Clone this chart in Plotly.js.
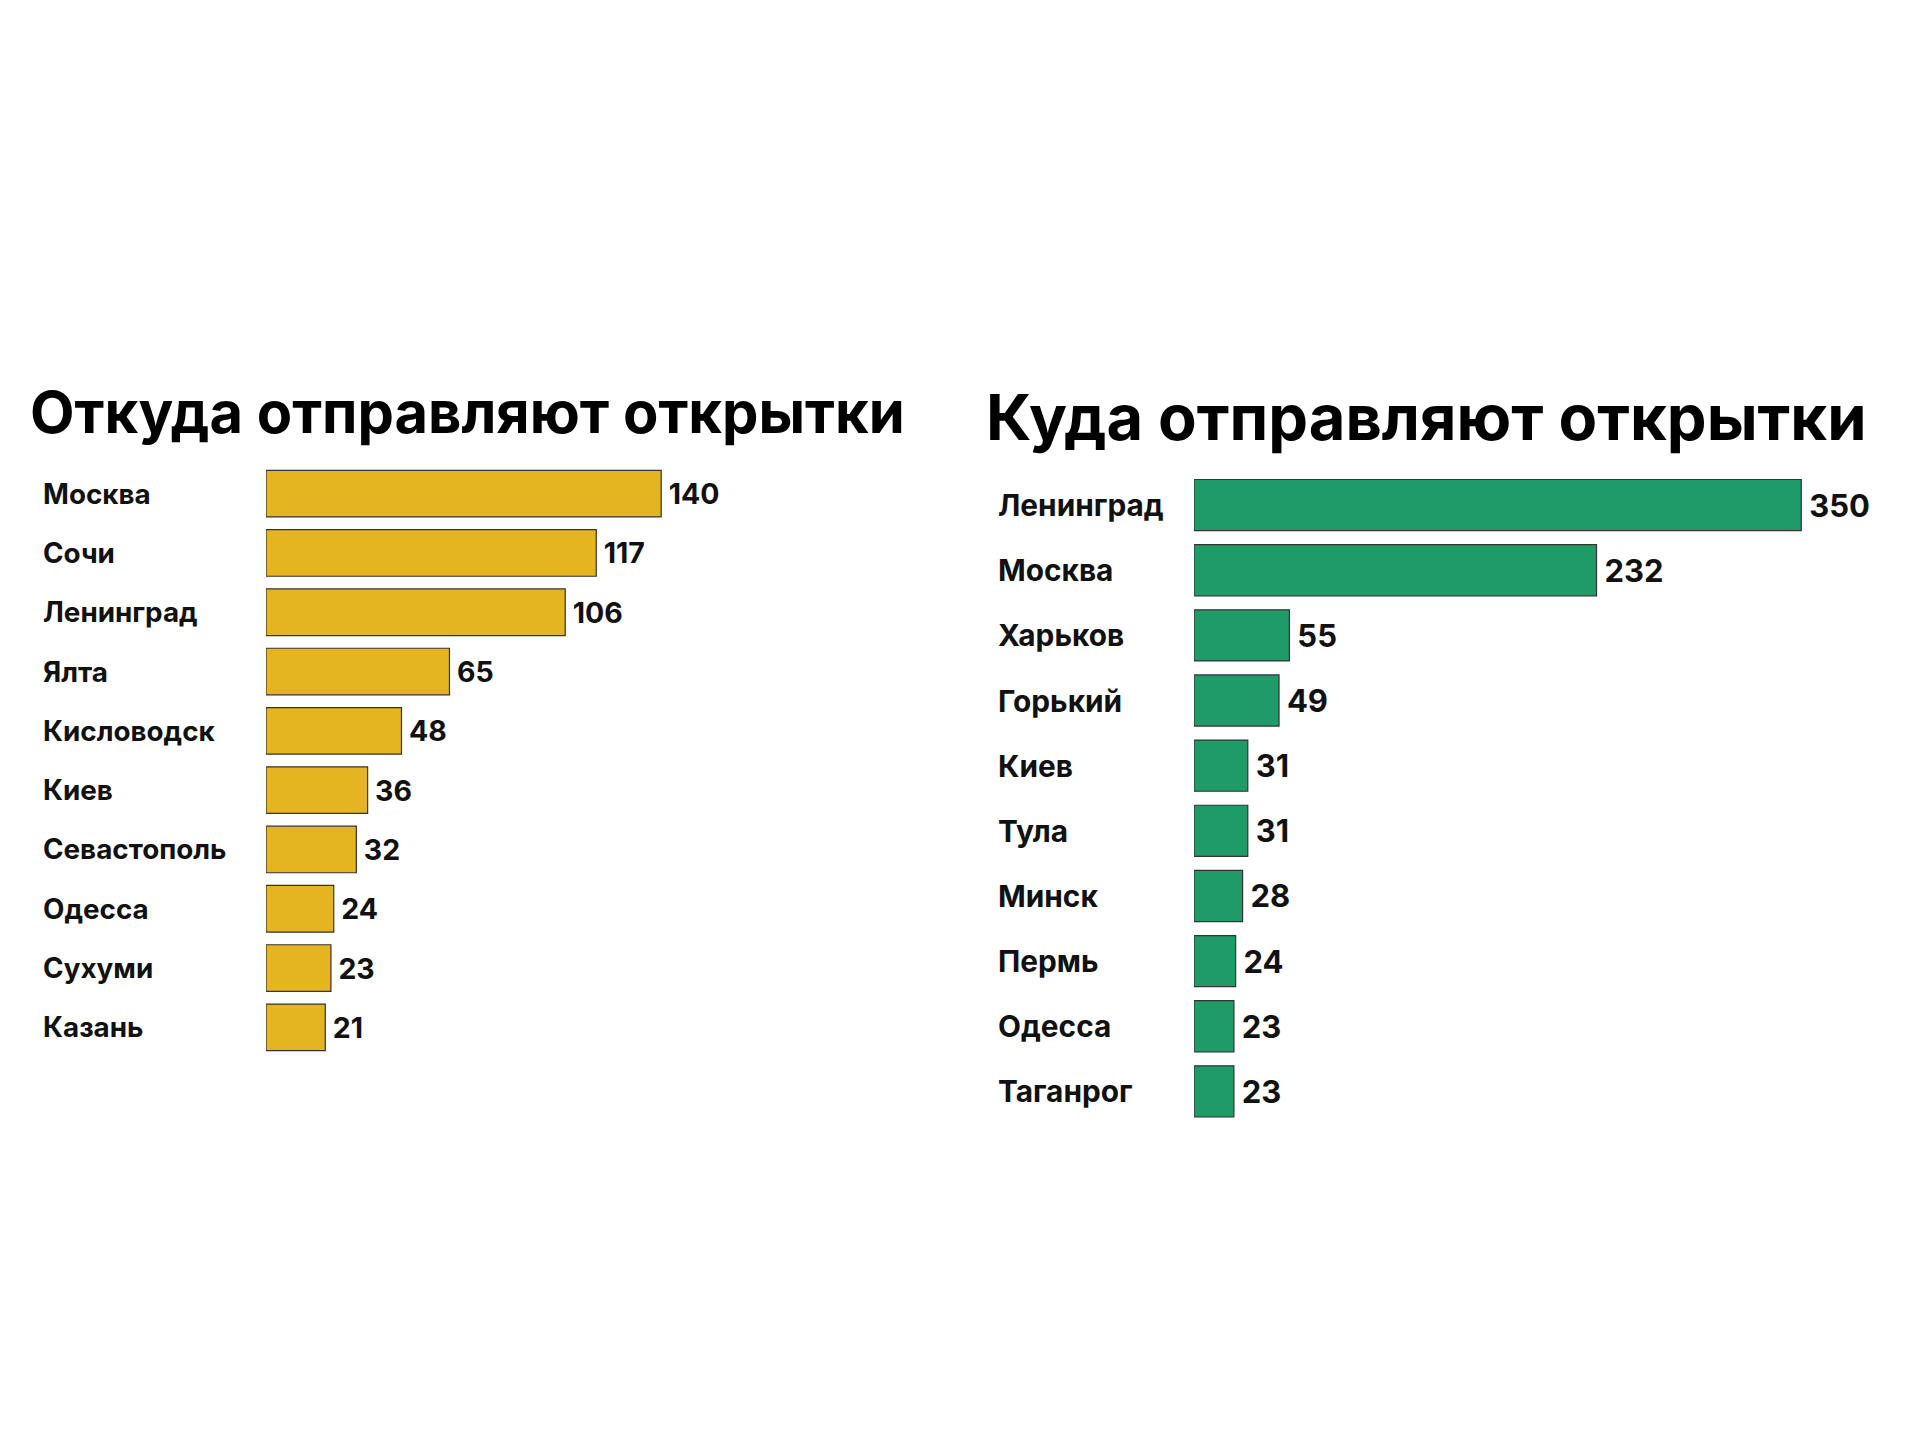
<!DOCTYPE html>
<html>
<head>
<meta charset="utf-8">
<script src="https://cdn.plot.ly/plotly-3.0.1.min.js"></script>
<style>html,body{margin:0;padding:0;background:#fff;}#chart{width:1920px;height:1440px;}</style>
</head>
<body>
<div id="chart"></div>
<script>
const fromCities = ["Москва","Сочи","Ленинград","Ялта","Кисловодск","Киев","Севастополь","Одесса","Сухуми","Казань"];
const fromValues = [140,117,106,65,48,36,32,24,23,21];
const toCities = ["Ленинград","Москва","Харьков","Горький","Киев","Тула","Минск","Пермь","Одесса","Таганрог"];
const toValues = [350,232,55,49,31,31,28,24,23,23];
const titleLeft = "Откуда отправляют открытки";
const titleRight = "Куда отправляют открытки";

const FONT = "Inter, 'Noto Sans', sans-serif";
const gold = "#E4B421";
const green = "#1E9B66";

const traces = [
  {type:"bar", orientation:"h", x:fromValues, y:fromCities, xaxis:"x", yaxis:"y",
   marker:{color:gold, line:{color:"#333333", width:1.2}},
   text:fromValues.map(v=>"\u2009"+v), textposition:"outside", cliponaxis:false,
   textfont:{family:FONT, size:28.5, color:"#111", weight:700}, hoverinfo:"x+y"},
  {type:"bar", orientation:"h", x:toValues, y:toCities, xaxis:"x2", yaxis:"y2",
   marker:{color:green, line:{color:"#333333", width:1.2}},
   text:toValues.map(v=>"\u2009"+v), textposition:"outside", cliponaxis:false,
   textfont:{family:FONT, size:31, color:"#111", weight:700}, hoverinfo:"x+y"}
];

const annotations = [];
fromCities.forEach(c=>annotations.push({xref:"paper", yref:"y", x:41/1920, y:c, xanchor:"left", yanchor:"middle",
  text:c, showarrow:false, font:{family:FONT, size:27.8, color:"#111", weight:700}}));
toCities.forEach(c=>annotations.push({xref:"paper", yref:"y2", x:996/1920, y:c, xanchor:"left", yanchor:"middle",
  text:c, showarrow:false, font:{family:FONT, size:29.8, color:"#111", weight:700}}));
annotations.push({xref:"paper", yref:"paper", x:28/1920, y:1-412/1440, xanchor:"left", yanchor:"middle",
  text:titleLeft, showarrow:false, font:{family:FONT, size:57.8, color:"#000", weight:700}});
annotations.push({xref:"paper", yref:"paper", x:984/1920, y:1-417/1440, xanchor:"left", yanchor:"middle",
  text:titleRight, showarrow:false, font:{family:FONT, size:63.2, color:"#000", weight:700}});

const layout = {
  width:1920, height:1440, margin:{l:0,r:0,t:0,b:0},
  paper_bgcolor:"#fff", plot_bgcolor:"#fff", showlegend:false,
  bargap:0.215,
  xaxis:{domain:[266/1920, 900/1920], range:[0,224.6], visible:false, fixedrange:true},
  yaxis:{domain:[1-1057/1440, 1-464/1440], autorange:"reversed", type:"category", visible:false, fixedrange:true},
  xaxis2:{domain:[1194/1920, 1900/1920], range:[0,406.9], visible:false, anchor:"y2", fixedrange:true},
  yaxis2:{domain:[1-1124/1440, 1-472.5/1440], autorange:"reversed", type:"category", visible:false, anchor:"x2", fixedrange:true},
  annotations:annotations,
  font:{family:FONT}
};
Plotly.newPlot("chart", traces, layout, {displayModeBar:false, staticPlot:true});
</script>
</body>
</html>
